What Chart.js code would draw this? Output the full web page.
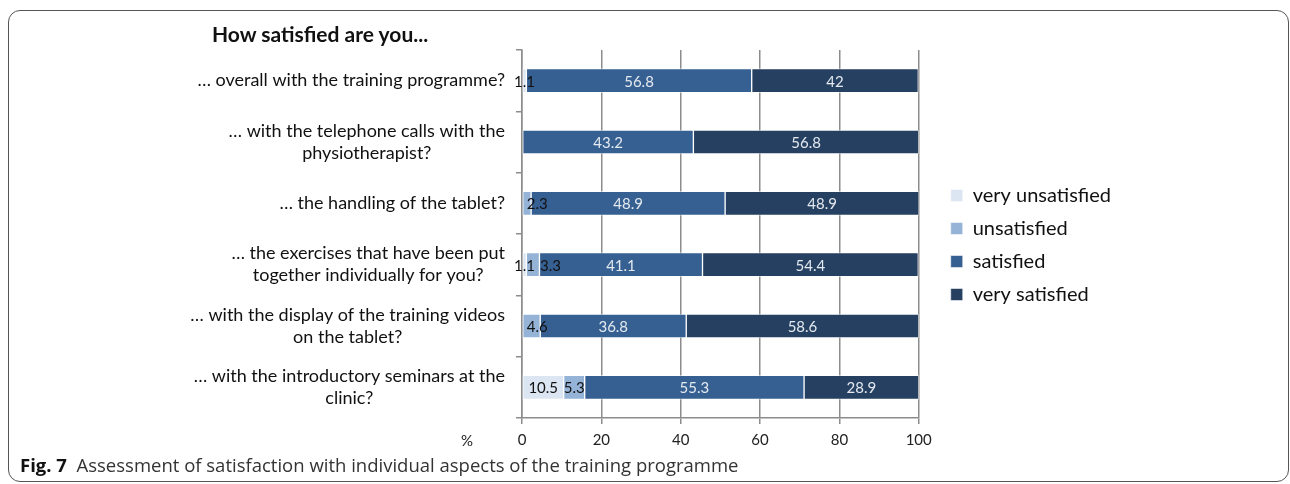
<!DOCTYPE html>
<html>
<head>
<meta charset="utf-8">
<script src="https://cdn.jsdelivr.net/npm/chart.js@4.4.1/dist/chart.umd.min.js"></script>
<style>
  body { margin: 0; background: #fff; }
  #wrap { position: relative; width: 1290px; height: 484px; overflow: hidden; }
  #frame { position: absolute; left: 8px; top: 10px; width: 1279px; height: 470px; border: 1.5px solid #555; border-radius: 12px; }
  #title { position: absolute; left: 212px; top: 21px; font: bold 21px Lato, sans-serif; color: #111; }
  #pct { position: absolute; left: 461px; top: 431px; font: 15px Lato, sans-serif; color: #222; }
  #caption { position: absolute; left: 20px; top: 452px; font: 18.5px "Open Sans", sans-serif; color: #333; }
  #caption b { color: #111; }
  canvas { position: absolute; left: 0; top: 0; }
</style>
</head>
<body>
<div id="wrap">
  <div id="frame"></div>
  <canvas id="chart" width="1290" height="484"></canvas>
  <div id="title">How satisfied are you...</div>
  <div id="pct">%</div>
  <div id="caption"><b>Fig. 7</b>&nbsp; Assessment of satisfaction with individual aspects of the training programme</div>
</div>
<script>
// ================= DATA =================
const questions = [
    ["… overall with the training programme?"],
    ["… with the telephone calls with the", "physiotherapist?"],
    ["… the handling of the tablet?"],
    ["… the exercises that have been put", "together individually for you?"],
    ["… with the display of the training videos", "on the tablet?"],
    ["… with the introductory seminars at the", "clinic?"]
];
const seriesNames = ["very unsatisfied", "unsatisfied", "satisfied", "very satisfied"];
const veryUnsatisfied = [1.1, 0, 0, 1.1, 0, 10.5];
const unsatisfied = [0, 0, 2.3, 3.3, 4.6, 5.3];
const satisfied = [56.8, 43.2, 48.9, 41.1, 36.8, 55.3];
const verySatisfied = [42, 56.8, 48.9, 54.4, 58.6, 28.9];
const xTicks = [0, 20, 40, 60, 80, 100];

const barColors = ["#dce6f2", "#95b3d7", "#376092", "#254061"];
const labelColors = ["#111", "#111", "#e4e9f0", "#e4e9f0"];


// ================= PLUGINS =================
// value labels inside the segments, nudged right when they do not fit
const valueLabels = {
    id: "valueLabels",
    afterDatasetsDraw(chart) {
        const ctx = chart.ctx;
        ctx.save();
        ctx.font = "15px Lato";
        ctx.textBaseline = "middle";
        ctx.textAlign = "left";
        const lastRight = {};
        chart.data.datasets.forEach((ds, i) => {
            chart.getDatasetMeta(i).data.forEach((bar, j) => {
                const v = ds.data[j];
                if (!v) return;
                const p = bar.getProps(["x", "y", "base"], true);
                const txt = String(v);
                const w = ctx.measureText(txt).width;
                let left = (p.base + p.x) / 2 - w / 2;
                if (w > p.x - p.base && i > 0) left = Math.max(left, p.base + 4);
                if (lastRight[j] !== undefined) left = Math.max(left, lastRight[j] + 5);
                lastRight[j] = left + w;
                ctx.fillStyle = labelColors[i];
                ctx.fillText(txt, left, p.y + 1);
            });
        });
        ctx.restore();
    }
};

// category labels: block right aligned, lines centred inside the block
const questionLabels = {
    id: "questionLabels",
    afterDraw(chart) {
        const ctx = chart.ctx;
        const y = chart.scales.y;
        const right = y.right - 17;
        const lineH = 22;
        ctx.save();
        ctx.font = "18px Lato";
        ctx.fillStyle = "#111";
        ctx.textAlign = "center";
        ctx.textBaseline = "middle";
        questions.forEach((lines, j) => {
            const blockW = Math.max(...lines.map(l => ctx.measureText(l).width));
            const cx = right - blockW / 2;
            const cy = y.getPixelForValue(j);
            const top = cy - (lines.length - 1) * lineH / 2;
            lines.forEach((l, k) => ctx.fillText(l, cx, top + k * lineH));
        });
        ctx.restore();
    }
};


// ================= CHART =================
const sets = [veryUnsatisfied, unsatisfied, satisfied, verySatisfied];

new Chart(document.getElementById("chart"), {
    type: "bar",
    data: {
        labels: questions,
        datasets: sets.map((d, i) => ({
            label: seriesNames[i],
            data: d,
            backgroundColor: barColors[i],
            borderColor: "rgba(255,255,255,0.55)",
            borderWidth: 1,
            borderSkipped: false,
            barThickness: 24
        }))
    },
    options: {
        indexAxis: "y",
        responsive: false,
        animation: false,
        layout: { padding: { left: 0, top: 50, right: 169, bottom: 28 } },
        plugins: {
            tooltip: { enabled: false },
            legend: {
                position: "right",
                fullSize: false,
                title: { display: true, text: "", font: { size: 10 }, padding: 5 },
                labels: {
                    boxWidth: 12,
                    boxHeight: 12,
                    padding: 13,
                    color: "#111",
                    font: { family: "Lato", size: 20 }
                }
            }
        },
        scales: {
            x: {
                stacked: true,
                min: 0,
                max: 100,
                afterBuildTicks: s => { s.ticks = xTicks.map(v => ({ value: v })); },
                ticks: { color: "#222", padding: 7, font: { family: "Lato", size: 15 } },
                grid: { color: "#8c8c8c", lineWidth: 1.5, tickLength: 6 },
                border: { color: "#8c8c8c", width: 1.5 }
            },
            y: {
                stacked: true,
                afterFit: s => { s.width = 522; },
                ticks: { display: false },
                grid: { offset: true, drawOnChartArea: false, color: "#8c8c8c", lineWidth: 1.5, tickLength: 6 },
                border: { color: "#8c8c8c", width: 1.5 }
            },
            gap: {
                type: "linear",
                position: "right",
                afterFit: s => { s.width = 19; },
                ticks: { display: false },
                grid: { display: false },
                border: { display: false }
            }
        }
    },
    plugins: [valueLabels, questionLabels]
});
</script>
</body>
</html>
